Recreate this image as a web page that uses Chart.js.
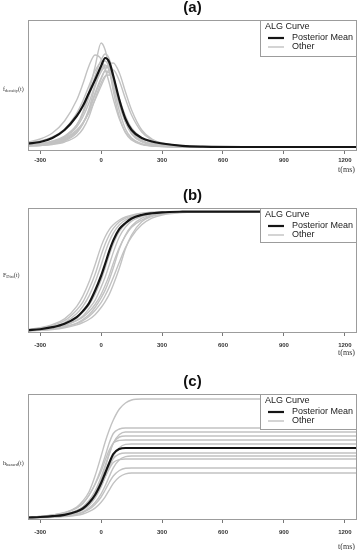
<!DOCTYPE html>
<html>
<head>
<meta charset="utf-8">
<script src="https://cdn.jsdelivr.net/npm/chart.js@4.4.1/dist/chart.umd.min.js"></script>
<style>
  html, body { margin: 0; padding: 0; background: #fff; }
  .panel { position: absolute; left: 0; width: 360px; }
  canvas { display: block; }
</style>
</head>
<body>
<div class="panel" style="top:0;height:180px"><canvas id="cA" width="360" height="180"></canvas></div>
<div class="panel" style="top:180px;height:185px"><canvas id="cB" width="360" height="185"></canvas></div>
<div class="panel" style="top:365px;height:185px"><canvas id="cC" width="360" height="185"></canvas></div>
<script>
// Curvas ALG: densidad (a), distribucion (b) y hazard (c)
const tiempos = [-360, -300, -240, -180, -120, -90, -60, -30, 0, 20, 40, 60, 90, 120, 150, 200, 250, 300, 400, 500, 700, 1260];
const ticksX = [-300, 0, 300, 600, 900, 1200];

// (a) densidad, unidades arbitrarias
const densidadMedia = [3.5, 5, 9, 17, 31, 41, 54, 67, 81, 89, 85, 71, 47, 28, 17, 9, 5.5, 3.5, 1.2, 0.4, 0, 0];
const densidadOtras = [
  [2, 3, 5, 10, 22, 35, 55, 80, 104, 97, 79, 56, 30, 14, 7, 2.5, 1, 0.4, 0, 0, 0, 0],
  [5, 8, 14, 26, 47, 63, 81, 92, 88, 78, 64, 48, 28, 15, 8, 3, 1.5, 0.6, 0, 0, 0, 0],
  [2, 3, 6, 11, 22, 33, 50, 71, 87, 93, 88, 72, 45, 25, 13, 5, 2, 1, 0.2, 0, 0, 0],
  [1.5, 2.5, 4, 8, 16, 24, 36, 52, 68, 77, 83, 84, 74, 55, 37, 17, 8, 4, 1, 0.3, 0, 0],
  [2, 3, 5, 10, 20, 30, 44, 62, 75, 80, 79, 68, 45, 26, 14, 6, 2.5, 1, 0.2, 0, 0, 0],
  [1, 2, 3.5, 7, 15, 23, 36, 54, 69, 76, 74, 63, 42, 25, 14, 6, 3, 1.5, 0.5, 0.1, 0, 0],
  [1, 1.5, 2.5, 5, 11, 18, 30, 48, 64, 71, 72, 64, 44, 27, 16, 7, 3, 1.5, 0.5, 0.1, 0, 0],
  [4, 6, 10, 18, 34, 46, 61, 76, 85, 86, 80, 68, 48, 31, 19, 9, 4, 2, 0.5, 0.1, 0, 0],
  [2, 3, 5, 9, 17, 24, 34, 47, 61, 70, 77, 77, 66, 48, 32, 15, 7, 3, 1, 0.3, 0, 0],
  [1, 1.5, 3, 6, 14, 23, 38, 60, 77, 82, 76, 60, 36, 18, 9, 3, 1, 0.5, 0, 0, 0, 0]
];

// (b) funcion de distribucion
const distMedia = [0.011, 0.019, 0.036, 0.065, 0.12, 0.17, 0.235, 0.34, 0.465, 0.565, 0.67, 0.76, 0.855, 0.905, 0.943, 0.972, 0.986, 0.994, 0.999, 1, 1, 1];
const distOtras = [
  [0.017, 0.032, 0.058, 0.105, 0.21, 0.295, 0.41, 0.555, 0.71, 0.79, 0.85, 0.89, 0.93, 0.955, 0.97, 0.986, 0.994, 0.997, 1, 1, 1, 1],
  [0.015, 0.027, 0.05, 0.09, 0.18, 0.245, 0.35, 0.475, 0.635, 0.73, 0.805, 0.86, 0.915, 0.945, 0.963, 0.982, 0.992, 0.997, 1, 1, 1, 1],
  [0.012, 0.023, 0.04, 0.075, 0.15, 0.21, 0.295, 0.41, 0.555, 0.66, 0.75, 0.82, 0.89, 0.93, 0.955, 0.978, 0.99, 0.995, 1, 1, 1, 1],
  [0.01, 0.018, 0.033, 0.06, 0.11, 0.16, 0.22, 0.31, 0.43, 0.53, 0.635, 0.73, 0.835, 0.895, 0.935, 0.968, 0.985, 0.993, 0.999, 1, 1, 1],
  [0.009, 0.015, 0.028, 0.053, 0.095, 0.13, 0.19, 0.26, 0.37, 0.455, 0.555, 0.66, 0.79, 0.87, 0.92, 0.96, 0.98, 0.99, 0.998, 1, 1, 1],
  [0.01, 0.016, 0.028, 0.05, 0.09, 0.12, 0.165, 0.225, 0.31, 0.385, 0.47, 0.57, 0.70, 0.80, 0.87, 0.93, 0.965, 0.982, 0.995, 1, 1, 1],
  [0.007, 0.012, 0.021, 0.04, 0.07, 0.1, 0.14, 0.2, 0.28, 0.345, 0.43, 0.53, 0.69, 0.805, 0.88, 0.945, 0.972, 0.986, 0.997, 1, 1, 1],
  [0.008, 0.013, 0.022, 0.038, 0.065, 0.09, 0.125, 0.175, 0.24, 0.3, 0.37, 0.45, 0.58, 0.70, 0.79, 0.89, 0.945, 0.972, 0.992, 0.999, 1, 1],
  [0.005, 0.009, 0.016, 0.03, 0.055, 0.075, 0.1, 0.14, 0.2, 0.25, 0.31, 0.39, 0.53, 0.69, 0.805, 0.915, 0.96, 0.98, 0.996, 1, 1, 1]
];

// (c) hazard, unidades arbitrarias
const hazardMedia = [0.5, 1, 1.8, 3.2, 6.5, 9.5, 15, 23, 35, 45, 55, 64, 69, 70, 70, 70, 70, 70, 70, 70, 70, 70];
const hazardOtras = [
  [0.8, 1.5, 3, 5.5, 11, 17, 26, 42, 62, 76, 88, 98, 109, 115, 118, 119, 119, 119, 119, 119, 119, 119],
  [0.8, 1.5, 2.8, 5, 10, 14.4, 22.5, 34, 49.5, 62, 75, 84.5, 89, 90, 90, 90, 90, 90, 90, 90, 90, 90],
  [0.5, 1, 1.9, 3.4, 6.9, 10.3, 16, 25, 38.7, 50.7, 63.6, 74.8, 83.4, 86, 86, 86, 86, 86, 86, 86, 86, 86],
  [0.6, 1.1, 2.1, 3.8, 7.6, 11.2, 17.5, 27, 41, 52.5, 64.5, 75, 81, 82, 82, 82, 82, 82, 82, 82, 82, 82],
  [0.9, 1.6, 2.9, 5.1, 10.1, 14.8, 22.6, 33.5, 46.8, 57.7, 67.9, 74.9, 77.6, 78, 78, 78, 78, 78, 78, 78, 78, 78],
  [0.4, 0.8, 1.5, 2.7, 5.5, 8.1, 12.6, 20, 31, 41.4, 52.5, 62, 70.3, 73.6, 74, 74, 74, 74, 74, 74, 74, 74],
  [0.5, 0.9, 1.7, 3, 6, 8.8, 13.9, 21.5, 32.5, 41.6, 51, 59.4, 64, 65, 65, 65, 65, 65, 65, 65, 65, 65],
  [0.3, 0.6, 1.1, 2, 4.2, 6.2, 9.9, 15.5, 24.2, 32.2, 41.5, 50.2, 58.3, 61.4, 62, 62, 62, 62, 62, 62, 62, 62],
  [0.5, 1, 1.8, 3.2, 6.5, 9.4, 14.8, 22.4, 32.5, 40.7, 49, 55.5, 58.4, 59, 59, 59, 59, 59, 59, 59, 59, 59],
  [0.3, 0.55, 1, 1.9, 3.8, 5.5, 8.5, 13.5, 21, 28, 35.5, 42, 47.5, 49.8, 50, 50, 50, 50, 50, 50, 50, 50],
  [0.2, 0.4, 0.7, 1.4, 2.7, 4, 6.3, 9.9, 15.8, 21.2, 27.9, 34.7, 41, 44.1, 45, 45, 45, 45, 45, 45, 45, 45]
];

const colorMedia = '#151515';
const colorOtras = '#c2c2c2';
const colorMarco = '#9c9c9c';
const fuente = '"Liberation Sans", Arial, sans-serif';

// caja, titulo, etiquetas y leyenda dibujados sobre la grafica
const marcoPlugin = {
  id: 'marco',
  afterDraw(chart, args, o) {
    const ctx = chart.ctx;
    const a = chart.chartArea;
    ctx.save();
    ctx.strokeStyle = colorMarco;
    ctx.lineWidth = 1;
    ctx.strokeRect(a.left + 0.5, a.top + 0.5, a.right - a.left - 1, a.bottom - a.top - 1);

    // titulo
    ctx.fillStyle = '#111';
    ctx.font = 'bold 15px ' + fuente;
    ctx.textAlign = 'center';
    ctx.textBaseline = 'middle';
    ctx.fillText(o.titulo, (a.left + a.right) / 2, a.top - 12);

    // etiqueta eje y con subindice
    let x = 3;
    const yc = o.yEtiqueta;
    ctx.textAlign = 'left';
    ctx.fillStyle = '#333';
    ctx.font = '6px "Liberation Serif", serif';
    ctx.fillText(o.letra, x, yc);
    x += ctx.measureText(o.letra).width;
    ctx.font = '4.5px "Liberation Serif", serif';
    ctx.fillText(o.sub, x, yc + 1.5);
    x += ctx.measureText(o.sub).width;
    ctx.font = '6px "Liberation Serif", serif';
    ctx.fillText('(t)', x, yc);

    // etiqueta eje x
    ctx.font = '8px "Liberation Serif", serif';
    ctx.textAlign = 'right';
    ctx.fillText('t(ms)', 355, a.bottom + o.dyTms);

    // leyenda
    const lx = 260, ly = a.top, lw = a.right - lx, lh = o.altoLeyenda;
    ctx.fillStyle = '#fff';
    ctx.fillRect(lx, ly, lw, lh);
    ctx.strokeStyle = colorMarco;
    ctx.strokeRect(lx + 0.5, ly + 0.5, lw - 1, lh);
    ctx.fillStyle = '#222';
    ctx.font = '9px ' + fuente;
    ctx.textAlign = 'left';
    ctx.fillText('ALG Curve', 265, ly + 7);
    const items = chart.data.datasets.slice(0, 2);
    items.forEach((ds, i) => {
      const yy = ly + 18 + i * 9;
      ctx.strokeStyle = ds.borderColor;
      ctx.lineWidth = ds.borderWidth;
      ctx.beginPath();
      ctx.moveTo(268, yy);
      ctx.lineTo(284, yy);
      ctx.stroke();
      ctx.fillText(ds.label, 292, yy);
    });
    ctx.restore();
  }
};

function crearPanel(id, media, otras, cfg) {
  const canvas = document.getElementById(id);
  const H = canvas.height;
  const puntos = (vals) => tiempos.map((t, i) => ({ x: t, y: vals[i] }));
  const datasets = [{
    label: 'Posterior Mean',
    data: puntos(media),
    borderColor: colorMedia,
    borderWidth: 2.2,
    order: 0
  }];
  otras.forEach((serie) => {
    datasets.push({
      label: 'Other',
      data: puntos(serie),
      borderColor: colorOtras,
      borderWidth: 1.4,
      order: 1
    });
  });
  return new Chart(canvas, {
    type: 'line',
    data: { datasets: datasets },
    options: {
      responsive: false,
      animation: false,
      events: [],
      elements: {
        point: { radius: 0 },
        line: { cubicInterpolationMode: 'monotone', fill: false }
      },
      layout: { padding: { left: 28, right: 3, top: cfg.arriba, bottom: 0 } },
      plugins: {
        legend: { display: false },
        tooltip: { enabled: false },
        marco: cfg
      },
      scales: {
        x: {
          type: 'linear',
          min: -360,
          max: 1260,
          afterBuildTicks: (s) => { s.ticks = ticksX.map((v) => ({ value: v })); },
          afterFit: (s) => { s.height = H - cfg.abajo; },
          border: { display: false },
          grid: { drawOnChartArea: false, drawTicks: true, tickLength: 3, color: '#777' },
          ticks: {
            padding: cfg.padTicks,
            maxRotation: 0,
            autoSkip: false,
            color: '#333',
            font: { family: fuente, size: 6, weight: 'bold' },
            callback: (v) => String(v)
          }
        },
        y: { display: false, min: cfg.yMin, max: cfg.yMax }
      }
    },
    plugins: [marcoPlugin]
  });
}

crearPanel('cA', densidadMedia, densidadOtras, {
  titulo: '(a)', letra: 'f', sub: 'density', yEtiqueta: 89,
  arriba: 20, abajo: 151, padTicks: 3, dyTms: 19, altoLeyenda: 36,
  yMin: -4, yMax: 127
});
crearPanel('cB', distMedia, distOtras, {
  titulo: '(b)', letra: 'F', sub: 'Dist', yEtiqueta: 95,
  arriba: 28, abajo: 153, padTicks: 6, dyTms: 20, altoLeyenda: 34,
  yMin: -0.0125, yMax: 1.03
});
crearPanel('cC', hazardMedia, hazardOtras, {
  titulo: '(c)', letra: 'h', sub: 'hazard', yEtiqueta: 98,
  arriba: 29, abajo: 155, padTicks: 6, dyTms: 27, altoLeyenda: 35,
  yMin: -2, yMax: 124
});
</script>
</body>
</html>
